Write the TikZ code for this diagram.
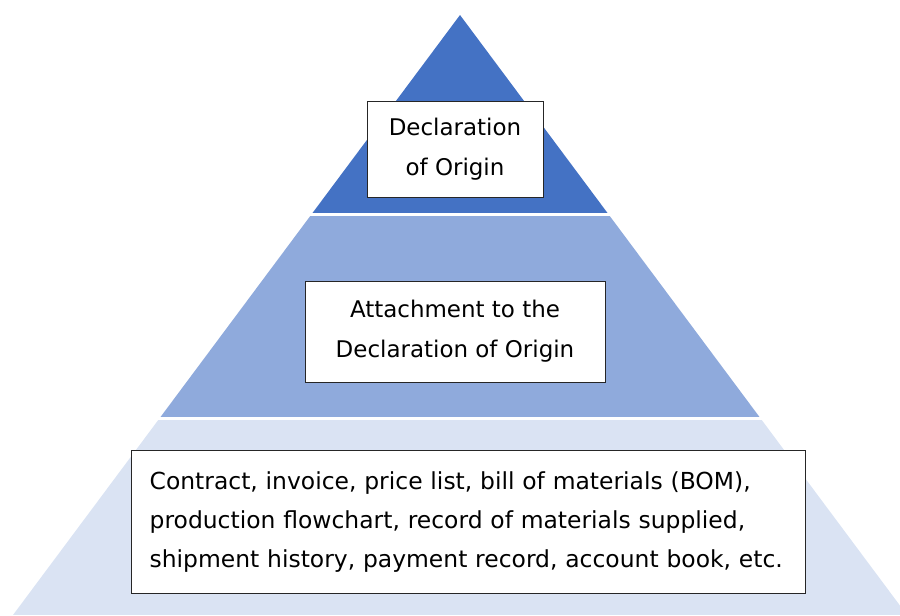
\documentclass[tikz,border=0pt]{standalone}
\usepackage{fontspec}
\setmainfont{DejaVu Sans}
\definecolor{pyTop}{HTML}{4472C4}
\definecolor{pyMid}{HTML}{8FAADC}
\definecolor{pyLow}{HTML}{DAE3F3}
\definecolor{pyEdge}{HTML}{262626}
\usepackage{tikz}
\usetikzlibrary{calc,positioning}

\tikzset{
  docbox/.style={draw=pyEdge, line width=0.7pt, fill=white, align=center,
    font=\fontsize{19.6}{34}\selectfont, inner sep=0pt}
}

\begin{document}
\begin{tikzpicture}[x=0.03cm, y=-0.03cm]
  \useasboundingbox (0,0) rectangle (900,615);

  % Pyramid outline
  \coordinate (apex) at (460,15);
  \coordinate (baseL) at (13,615);
  \coordinate (baseR) at (907,615);

  % Bands, clipped to the pyramid
  \begin{scope}
    \clip (apex) -- (baseL) -- (baseR) -- cycle;
    \fill[pyTop] (0,0) rectangle (900,213);
    \fill[pyMid] (0,216) rectangle (900,417);
    \fill[pyLow] (0,420) rectangle (900,615);
  \end{scope}

  % Top: the declaration itself
  \node[docbox, minimum width=5.28cm, minimum height=2.88cm] (decl) at (455,149)
    {Declaration\\of Origin};

  % Middle: the attachment
  \node[docbox, minimum width=9cm, minimum height=3.03cm] (attach) at (455,331.5)
    {Attachment to the\\Declaration of Origin};

  % Bottom: supporting documents
  \node[docbox, align=left, text width=19.1cm, inner xsep=0.56cm,
    minimum height=4.29cm, font=\fontsize{20}{33.2}\selectfont] (support) at (468,522)
    {Contract, invoice, price list, bill of materials (BOM),\\
     production flowchart, record of materials supplied,\\
     shipment history, payment record, account book, etc.};

\end{tikzpicture}
\end{document}
